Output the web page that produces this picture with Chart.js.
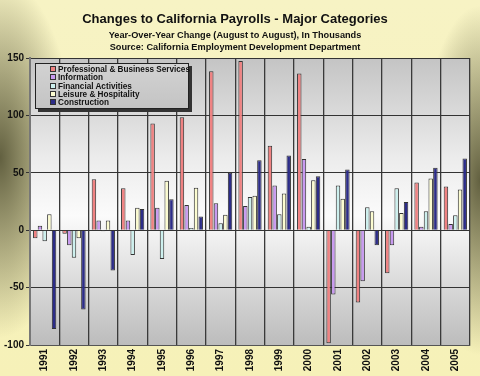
<!DOCTYPE html>
<html>
<head>
<meta charset="utf-8">
<script src="https://cdn.jsdelivr.net/npm/chart.js@4"></script>
<style>
  html, body { margin: 0; padding: 0; }
  body {
    width: 480px; height: 376px; overflow: hidden; position: relative;
    background:
      radial-gradient(ellipse 75px 180px at 0 42%, rgba(98,96,64,1), rgba(98,96,64,0)),
      radial-gradient(ellipse 60px 175px at 100% 48%, rgba(98,96,64,1), rgba(98,96,64,0)),
      linear-gradient(#f7f3c4, #f6f1b8);
    font-family: "Liberation Sans", Arial, sans-serif;
  }
  #wrap { position: absolute; left: 0; top: 0; width: 480px; height: 376px; }
  #legend {
    position: absolute; left: 35px; top: 63px; width: 138px; height: 42px;
    border: 1px solid #222; box-shadow: 3px 3px 0 #333;
    background: linear-gradient(#d2d2d2, #c4c4c4);
    padding: 2px 0 0 14px; box-sizing: content-box;
  }
  #legend div { font: bold 8.2px "Liberation Sans", Arial, sans-serif; line-height: 8.3px; color: #111; white-space: nowrap; }
  #legend span { display: inline-block; width: 4px; height: 4px; border: 1px solid #333; margin-right: 2px; vertical-align: 0px; }
</style>
</head>
<body>
<div id="wrap"><canvas id="chart" width="480" height="376"></canvas></div>
<div id="legend"></div>
<script>
/* =========================
   DATOS
=========================*/
const years = ["1991", "1992", "1993", "1994", "1995", "1996", "1997", "1998", "1999", "2000", "2001", "2002", "2003", "2004", "2005"];
const professional = [-7, -3, 44.5, 36.5, 93, 98.5, 138.5, 147.5, 73.5, 136.5, -98.5, -63, -37.5, 41.5, 38];
const information  = [4, -13, 8.5, 8.5, 19.5, 22, 23.5, 21, 39, 62, -56, -44.5, -13, 3, 5.5];
const financial    = [-9.5, -24, -1, -21.5, -25, 2, 6, 29, 14, 3, 39, 20, 36.5, 16.5, 13];
const leisure      = [14, -7, 8.5, 19.5, 43, 37, 13.5, 30, 32, 43.5, 27.5, 16.5, 15, 45, 35.5];
const construction = [-86, -69, -35, 18.5, 27, 12, 50, 61, 65, 47, 53, -13, 24.5, 54.5, 62.5];
const yTicks = [150, 100, 50, 0, -50, -100];

const series = [
  { label: "Professional & Business Services", data: professional, color: "#f08282" },
  { label: "Information", data: information, color: "#c89af0" },
  { label: "Financial Activities", data: financial, color: "#cdf0ee" },
  { label: "Leisure & Hospitality", data: leisure, color: "#fcfcd0" },
  { label: "Construction", data: construction, color: "#2c2c88" },
];

/* =========================
   LEYENDA HTML
=========================*/
const legend = document.getElementById("legend");
series.forEach((s) => {
  const row = document.createElement("div");
  row.innerHTML = '<span style="background:' + s.color + '"></span>' + s.label.replace(/&/g, "&amp;");
  legend.appendChild(row);
});

/* fondo del área del gráfico */
const plotBg = {
  id: "plotBg",
  beforeDraw(chart) {
    const { ctx, chartArea: a } = chart;
    const g = ctx.createLinearGradient(0, a.top, 0, a.bottom);
    g.addColorStop(0, "#c4c4c4");
    g.addColorStop(0.35, "#ececec");
    g.addColorStop(0.55, "#fbfbfb");
    g.addColorStop(1, "#bcbcbc");
    ctx.save();
    ctx.fillStyle = g;
    ctx.fillRect(a.left, a.top, a.right - a.left, a.bottom - a.top);
    ctx.restore();
  },
};

const tickFont = { family: "'Liberation Sans', Arial, sans-serif", size: 10, weight: "bold" };

new Chart(document.getElementById("chart"), {
  type: "bar",
  data: {
    labels: years,
    datasets: series.map((s) => ({
      label: s.label,
      data: s.data,
      backgroundColor: s.color,
      borderColor: "#333",
      borderWidth: 1,
      categoryPercentage: 0.8,
      barPercentage: 0.95,
    })),
  },
  options: {
    responsive: false,
    animation: false,
    layout: { padding: { left: 0, right: 10, top: 0, bottom: 2 } },
    plugins: {
      legend: { display: false },
      tooltip: { enabled: false },
      title: {
        display: true,
        text: "Changes to California Payrolls - Major Categories",
        color: "#111",
        font: { family: "'Liberation Sans', Arial, sans-serif", size: 13, weight: "bold", lineHeight: 1.2 },
        padding: { top: 12, bottom: 1 },
      },
      subtitle: {
        display: true,
        text: ["Year-Over-Year Change (August to August), In Thousands", "Source: California Employment Development Department"],
        color: "#111",
        font: { family: "'Liberation Sans', Arial, sans-serif", size: 9.2, weight: "bold", lineHeight: 1.4 },
        padding: { top: 0, bottom: 3.7 },
      },
    },
    scales: {
      x: {
        grid: { color: "#3a3a3a", lineWidth: 1.3, offset: true, drawTicks: false },
        border: { color: "#555", width: 1 },
        ticks: { color: "#111", font: tickFont, minRotation: 90, maxRotation: 90, padding: 4 },
        afterFit(scale) { scale.height = 29; },
      },
      y: {
        min: -100,
        max: 150,
        afterBuildTicks(scale) { scale.ticks = yTicks.map((v) => ({ value: v })); },
        grid: { color: "#333", lineWidth: 1, drawTicks: true, tickLength: 4 },
        border: { color: "#777", width: 2 },
        ticks: { color: "#111", font: tickFont, padding: 2 },
        afterFit(scale) { scale.width = 30; },
      },
    },
  },
  plugins: [plotBg],
});
</script>
</body>
</html>
